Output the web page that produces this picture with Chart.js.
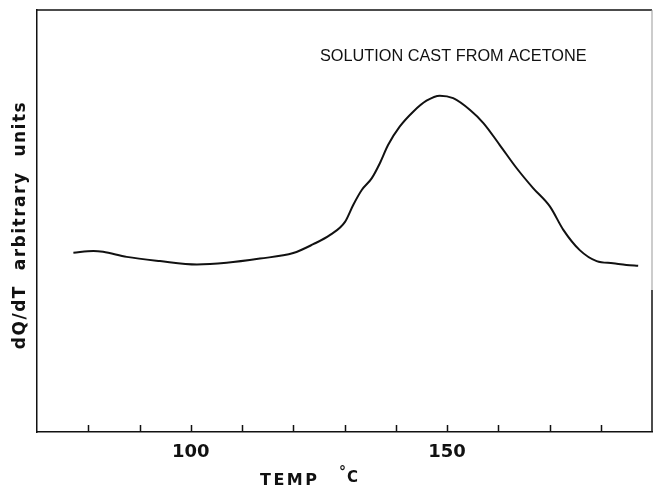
<!DOCTYPE html>
<html>
<head>
<meta charset="utf-8">
<script src="https://cdn.jsdelivr.net/npm/chart.js@4/dist/chart.umd.min.js"></script>
<style>
  html, body { margin: 0; padding: 0; background: #fff; }
  #wrap { width: 655px; height: 488px; }
</style>
</head>
<body>
<div id="wrap"><canvas id="dsc" width="655" height="488"></canvas></div>
<script>
// Temperature (°C) of each sampled point along the trace
const temps = [77.1, 81.0, 82.9, 87.5, 94.0, 101.2, 107.0, 113.5, 120.0, 123.9,
  127.2, 130.1, 131.7, 133.4, 135.3, 136.9, 138.5, 140.8, 143.4, 146.0,
  148.6, 151.2, 154.5, 157.1, 160.3, 163.6, 166.8, 170.1, 172.7, 175.9,
  179.2, 182.4, 185.0, 187.3];

// dQ/dT signal, arbitrary units (axis spans 0–100)
const heatFlow = [42.5, 42.9, 42.7, 41.5, 40.5, 39.7, 40.1, 41.1, 42.4, 44.5,
  46.7, 49.8, 53.8, 57.4, 60.1, 63.7, 68.0, 72.4, 75.9, 78.5,
  79.7, 79.1, 76.3, 73.2, 68.0, 62.5, 57.8, 53.4, 47.9, 43.1,
  40.5, 40.0, 39.6, 39.4];

// Tick marks along the temperature axis, and the ones that carry a label
const tempTicks = [80, 90, 100, 110, 120, 130, 140, 150, 160, 170, 180];
const tempLabels = [100, 150];

const titleText = 'SOLUTION CAST FROM ACETONE';
const yTitleText = 'dQ/dT  arbitrary  units';
const xTitleText = 'TEMP';
const unitText = 'C';

const ink = '#111';

const frameAndText = {
  id: 'frameAndText',
  afterDraw(chart) {
    const { ctx, chartArea: a } = chart;
    const xs = chart.scales.x;
    ctx.save();
    ctx.strokeStyle = ink;
    ctx.lineWidth = 1.5;

    // inward tick marks on the temperature axis
    ctx.beginPath();
    tempTicks.forEach(v => {
      const px = Math.round(xs.getPixelForValue(v)) + 0.5;
      ctx.moveTo(px, a.bottom);
      ctx.lineTo(px, a.bottom - 7);
    });
    ctx.stroke();

    // top edge of the frame
    ctx.beginPath();
    ctx.moveTo(a.left, a.top);
    ctx.lineTo(a.right, a.top);
    ctx.stroke();

    // right edge of the frame, faint in its upper part
    ctx.beginPath();
    ctx.strokeStyle = '#999';
    ctx.lineWidth = 1;
    ctx.moveTo(a.right, a.top);
    ctx.lineTo(a.right, 290);
    ctx.stroke();
    ctx.beginPath();
    ctx.strokeStyle = ink;
    ctx.lineWidth = 1.5;
    ctx.moveTo(a.right, 290);
    ctx.lineTo(a.right, a.bottom);
    ctx.stroke();

    ctx.fillStyle = ink;

    // inset title
    ctx.font = '16.3px "Liberation Sans", Arial, sans-serif';
    ctx.textAlign = 'left';
    ctx.textBaseline = 'alphabetic';
    ctx.fillText(titleText, 320, 61);

    // vertical axis title
    ctx.save();
    ctx.translate(21, 225);
    ctx.rotate(-Math.PI / 2);
    ctx.font = 'bold 17px "DejaVu Sans", sans-serif';
    ctx.letterSpacing = '1.5px';
    ctx.textAlign = 'center';
    ctx.textBaseline = 'middle';
    ctx.fillText(yTitleText, 0, 0);
    ctx.restore();

    // horizontal axis title
    ctx.font = 'bold 16px "DejaVu Sans", sans-serif';
    ctx.letterSpacing = '2.5px';
    ctx.textAlign = 'left';
    ctx.textBaseline = 'alphabetic';
    ctx.fillText(xTitleText, 260, 485);
    ctx.letterSpacing = '0px';
    ctx.font = 'bold 14px "DejaVu Sans", sans-serif';
    ctx.fillText('°', 339, 476);
    ctx.font = 'bold 15px "DejaVu Sans", sans-serif';
    ctx.fillText(unitText, 347, 482);

    ctx.restore();
  }
};

new Chart(document.getElementById('dsc'), {
  type: 'line',
  data: {
    labels: temps,
    datasets: [{
      data: temps.map((t, i) => ({ x: t, y: heatFlow[i] })),
      borderColor: ink,
      borderWidth: 2,
      pointRadius: 0,
      cubicInterpolationMode: 'monotone',
      fill: false
    }]
  },
  options: {
    responsive: false,
    animation: false,
    devicePixelRatio: 1,
    layout: { padding: { top: 10, right: 3, left: 0, bottom: 0 } },
    plugins: {
      legend: { display: false },
      tooltip: { enabled: false },
      title: { display: false }
    },
    scales: {
      x: {
        type: 'linear',
        min: 70,
        max: 190,
        afterFit(s) { s.height = 56; },
        afterBuildTicks(s) { s.ticks = tempTicks.map(v => ({ value: v })); },
        grid: { display: false },
        border: { display: true, color: ink, width: 1.5 },
        ticks: {
          autoSkip: false,
          maxRotation: 0,
          padding: 2,
          color: ink,
          font: { family: '"DejaVu Sans", sans-serif', size: 18, weight: 'bold' },
          callback: v => tempLabels.includes(v) ? String(v) : ''
        }
      },
      y: {
        min: 0,
        max: 100,
        afterFit(s) { s.width = 37; },
        grid: { display: false },
        border: { display: true, color: ink, width: 1.5 },
        ticks: { display: false }
      }
    }
  },
  plugins: [frameAndText]
});
</script>
</body>
</html>
